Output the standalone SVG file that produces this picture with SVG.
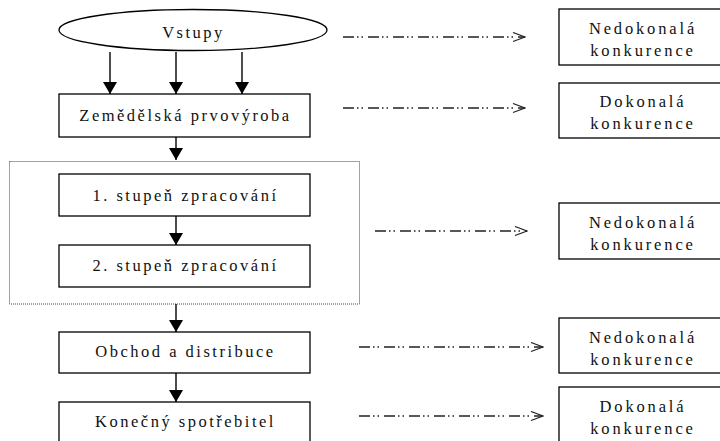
<svg xmlns="http://www.w3.org/2000/svg" width="720" height="441" viewBox="0 0 720 441">
<style>
  .box { fill: #fff; stroke: #000; stroke-width: 1.3; }
  .t { font-family: "Liberation Serif", "Times New Roman", serif; font-size: 16.5px; fill: #111; letter-spacing: 2.5px; text-anchor: middle; }
  .tr { font-family: "Liberation Serif", "Times New Roman", serif; font-size: 16.5px; fill: #111; letter-spacing: 2.85px; text-anchor: middle; }
  .flow { stroke: #000; stroke-width: 1.4; fill: none; marker-end: url(#solid); }
  .dash { stroke: #222; stroke-width: 1.3; fill: none; stroke-dasharray: 11 3 1.5 3 1.5 5; marker-end: url(#open); }
  .group { fill: none; stroke: #444; stroke-width: 1; stroke-dasharray: 1 1; }
</style>
<defs>
  <marker id="solid" markerUnits="userSpaceOnUse" markerWidth="12" markerHeight="14" refX="12" refY="7" orient="auto" viewBox="0 0 12 14">
    <path d="M0,0 L12,7 L0,14 z" fill="#000"/>
  </marker>
  <marker id="open" markerUnits="userSpaceOnUse" markerWidth="14" markerHeight="11" refX="13" refY="5.5" orient="auto" viewBox="0 0 14 11">
    <path d="M1,1 L13,5.5 L1,10" fill="none" stroke="#222" stroke-width="1.2"/>
  </marker>
</defs>

<rect id="zpracovani-group" class="group" x="9.5" y="161.5" width="350" height="142.5"/>

<g id="connectors">
  <line class="flow" x1="110" y1="52" x2="110" y2="94"/>
  <line class="flow" x1="176" y1="52" x2="176" y2="94"/>
  <line class="flow" x1="242" y1="52" x2="242" y2="94"/>
  <line class="flow" x1="176" y1="137" x2="176" y2="160"/>
  <line class="flow" x1="176" y1="216" x2="176" y2="245"/>
  <line class="flow" x1="176" y1="304" x2="176" y2="332"/>
  <line class="flow" x1="176" y1="373" x2="176" y2="402"/>
  <line class="dash" x1="343" y1="37" x2="525" y2="37"/>
  <line class="dash" x1="343" y1="108" x2="525" y2="108"/>
  <line class="dash" x1="375" y1="231" x2="527" y2="231"/>
  <line class="dash" x1="359" y1="347" x2="543" y2="347"/>
  <line class="dash" x1="359" y1="416" x2="543" y2="416"/>
</g>

<g id="vstupy">
  <ellipse cx="193" cy="30" rx="134" ry="20.5" fill="#fff" stroke="#000" stroke-width="1.3"/>
  <text class="t" x="193.5" y="38">Vstupy</text>
</g>
<g id="prvovyroba">
  <rect class="box" x="59" y="94" width="251" height="43"/>
  <text class="t" x="185.5" y="120.5">Zemědělská prvovýroba</text>
</g>
<g id="stupen1">
  <rect class="box" x="59" y="174" width="251" height="42"/>
  <text class="t" x="185.5" y="200.5">1. stupeň zpracování</text>
</g>
<g id="stupen2">
  <rect class="box" x="59" y="245" width="251" height="42"/>
  <text class="t" x="185.5" y="271">2. stupeň zpracování</text>
</g>
<g id="obchod">
  <rect class="box" x="59" y="332" width="251" height="41"/>
  <text class="t" x="185.5" y="356.5">Obchod a distribuce</text>
</g>
<g id="spotrebitel">
  <rect class="box" x="59" y="402" width="251" height="45"/>
  <text class="t" x="185.5" y="427">Konečný spotřebitel</text>
</g>

<g id="k1">
  <rect class="box" x="559" y="9" width="165" height="56"/>
  <text class="tr" x="643" y="33.5">Nedokonalá</text>
  <text class="tr" x="643" y="55.5">konkurence</text>
</g>
<g id="k2">
  <rect class="box" x="559" y="83" width="165" height="55"/>
  <text class="tr" x="643" y="106.5">Dokonalá</text>
  <text class="tr" x="643" y="128.5">konkurence</text>
</g>
<g id="k3">
  <rect class="box" x="559" y="203" width="165" height="56"/>
  <text class="tr" x="643" y="227.5">Nedokonalá</text>
  <text class="tr" x="643" y="249.5">konkurence</text>
</g>
<g id="k4">
  <rect class="box" x="559" y="318" width="165" height="55"/>
  <text class="tr" x="643" y="342.5">Nedokonalá</text>
  <text class="tr" x="643" y="364.5">konkurence</text>
</g>
<g id="k5">
  <rect class="box" x="559" y="387" width="165" height="60"/>
  <text class="tr" x="643" y="412">Dokonalá</text>
  <text class="tr" x="643" y="433.5">konkurence</text>
</g>
</svg>
